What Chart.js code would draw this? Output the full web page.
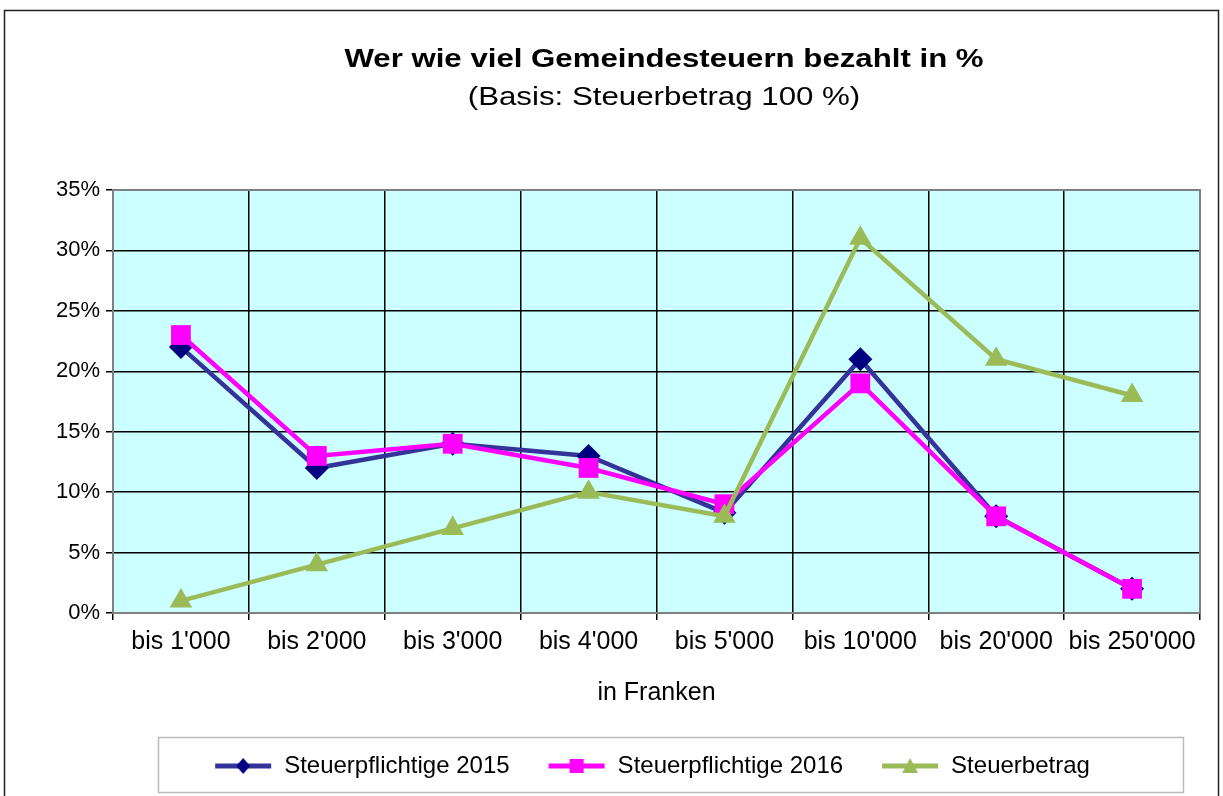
<!DOCTYPE html>
<html lang="de">
<head>
  <meta charset="UTF-8" />
  <title>Wer wie viel Gemeindesteuern bezahlt in %</title>
  <script src="https://cdn.jsdelivr.net/npm/chart.js"></script>
  <style>
    html, body { margin: 0; padding: 0; background: #fff; }
    #wrap { width: 1223px; height: 796px; position: relative; }
  </style>
</head>
<body>
  <div id="wrap"><canvas id="chart"></canvas></div>

  <script>
    // data
    const categories = ["bis 1'000", "bis 2'000", "bis 3'000", "bis 4'000", "bis 5'000", "bis 10'000", "bis 20'000", "bis 250'000"];
    const steuerpflichtige2015 = [22, 12, 14, 13, 8.3, 21, 8, 2];
    const steuerpflichtige2016 = [23, 13, 14, 12, 9, 19, 8, 2];
    const steuerbetrag = [1, 4, 7, 10, 8, 31, 21, 18];
    const yTicks = [0, 5, 10, 15, 20, 25, 30, 35];

    const FONT = "'Liberation Sans', Arial, sans-serif";

    // legend sample: short line with the marker in the middle
    function legendSample(color, lineColor, shape) {
      const c = document.createElement('canvas');
      c.width = 58; c.height = 20;
      const g = c.getContext('2d');
      g.strokeStyle = lineColor; g.lineWidth = 5;
      g.beginPath(); g.moveTo(1, 10); g.lineTo(57, 10); g.stroke();
      g.fillStyle = color;
      g.beginPath();
      if (shape === 'diamond') { g.moveTo(29, 2); g.lineTo(36, 10); g.lineTo(29, 18); g.lineTo(22, 10); }
      if (shape === 'square') { g.rect(22, 3, 14, 14); }
      if (shape === 'triangle') { g.moveTo(29, 2); g.lineTo(37, 17); g.lineTo(21, 17); }
      g.closePath(); g.fill();
      return c;
    }

    const framePlugin = {
      id: 'frame',
      afterLayout(chart) {
        // legend sits centred in its own box, a bit right of the canvas centre
        chart.legend.left += 32;
        chart.legend.right += 32;
      },
      beforeDraw(chart) {
        const { ctx, chartArea: a } = chart;
        ctx.save();
        ctx.fillStyle = '#ccffff';
        ctx.fillRect(a.left, a.top, a.right - a.left, a.bottom - a.top);
        ctx.restore();
      },
      afterDraw(chart) {
        const { ctx, chartArea: a } = chart;
        ctx.save();
        // outer chart frame
        ctx.strokeStyle = '#222';
        ctx.lineWidth = 1.5;
        ctx.strokeRect(4.5, 10.5, 1214, 800);
        // plot area border
        ctx.strokeStyle = '#808080';
        ctx.lineWidth = 2;
        ctx.strokeRect(a.left, a.top, a.right - a.left, a.bottom - a.top);
        // legend box
        ctx.strokeStyle = '#bbb';
        ctx.lineWidth = 1.5;
        ctx.strokeRect(158.5, 737.5, 1025, 55);
        // titles (reference text is drawn wide)
        ctx.fillStyle = '#000';
        ctx.textAlign = 'center';
        ctx.textBaseline = 'middle';
        ctx.save();
        ctx.translate(664, 60);
        ctx.scale(1.2, 1);
        ctx.font = 'bold 26px ' + FONT;
        ctx.fillText('Wer wie viel Gemeindesteuern bezahlt in %', 0, 0);
        ctx.restore();
        ctx.save();
        ctx.translate(664, 98);
        ctx.scale(1.25, 1);
        ctx.font = '25px ' + FONT;
        ctx.fillText('(Basis: Steuerbetrag 100 %)', 0, 0);
        ctx.restore();
        ctx.restore();
      }
    };

    new Chart(document.getElementById('chart'), {
      type: 'line',
      data: {
        labels: categories,
        datasets: [
          {
            label: 'Steuerpflichtige 2015',
            data: steuerpflichtige2015,
            borderColor: '#333399',
            backgroundColor: '#000080',
            borderWidth: 4.5,
            pointStyle: 'rectRot',
            pointRadius: 12,
            pointBorderWidth: 0,
            order: 2
          },
          {
            label: 'Steuerpflichtige 2016',
            data: steuerpflichtige2016,
            borderColor: '#ff00ff',
            backgroundColor: '#ff00ff',
            borderWidth: 4.5,
            pointStyle: 'rect',
            pointRadius: 14,
            pointBorderWidth: 0,
            order: 1
          },
          {
            label: 'Steuerbetrag',
            data: steuerbetrag,
            borderColor: '#9bbb59',
            backgroundColor: '#9bbb59',
            borderWidth: 4.5,
            pointStyle: 'triangle',
            pointRadius: 13,
            pointBorderWidth: 0,
            order: 0
          }
        ]
      },
      options: {
        responsive: true,
        maintainAspectRatio: false,
        animation: false,
        layout: { padding: { top: 190, left: 40, right: 23, bottom: 8 } },
        scales: {
          x: {
            offset: true,
            grid: { offset: true, color: '#000', lineWidth: 1.5, tickLength: 7, tickColor: '#000' },
            border: { display: false },
            ticks: { color: '#000', font: { family: FONT, size: 25 }, padding: 7, maxRotation: 0, autoSkip: false },
            title: { display: true, text: 'in Franken', color: '#000', font: { family: FONT, size: 25 }, padding: { top: 10, bottom: 8 } },
            afterFit(scale) { scale.height = 103; }
          },
          y: {
            min: 0,
            max: 35,
            afterBuildTicks(scale) { scale.ticks = yTicks.map(v => ({ value: v })); },
            grid: { color: '#000', lineWidth: 1.5, tickLength: 7, tickColor: '#000' },
            border: { display: false },
            ticks: { color: '#000', font: { family: FONT, size: 22 }, padding: 6, callback: v => v + '%' },
            afterFit(scale) { scale.width = 73; }
          }
        },
        plugins: {
          legend: {
            position: 'bottom',
            labels: {
              usePointStyle: true,
              pointStyleWidth: 58,
              color: '#000',
              font: { family: FONT, size: 24 },
              padding: 38,
              sort: (a, b) => a.datasetIndex - b.datasetIndex,
              generateLabels(chart) {
                const shapes = ['diamond', 'square', 'triangle'];
                return chart.data.datasets.map((ds, i) => ({
                  text: ds.label,
                  datasetIndex: i,
                  fontColor: '#000',
                  pointStyle: legendSample(ds.backgroundColor, ds.borderColor, shapes[i]),
                  hidden: false,
                  lineWidth: 0
                }));
              }
            }
          },
          tooltip: { enabled: false }
        }
      },
      plugins: [framePlugin]
    });
  </script>
</body>
</html>
